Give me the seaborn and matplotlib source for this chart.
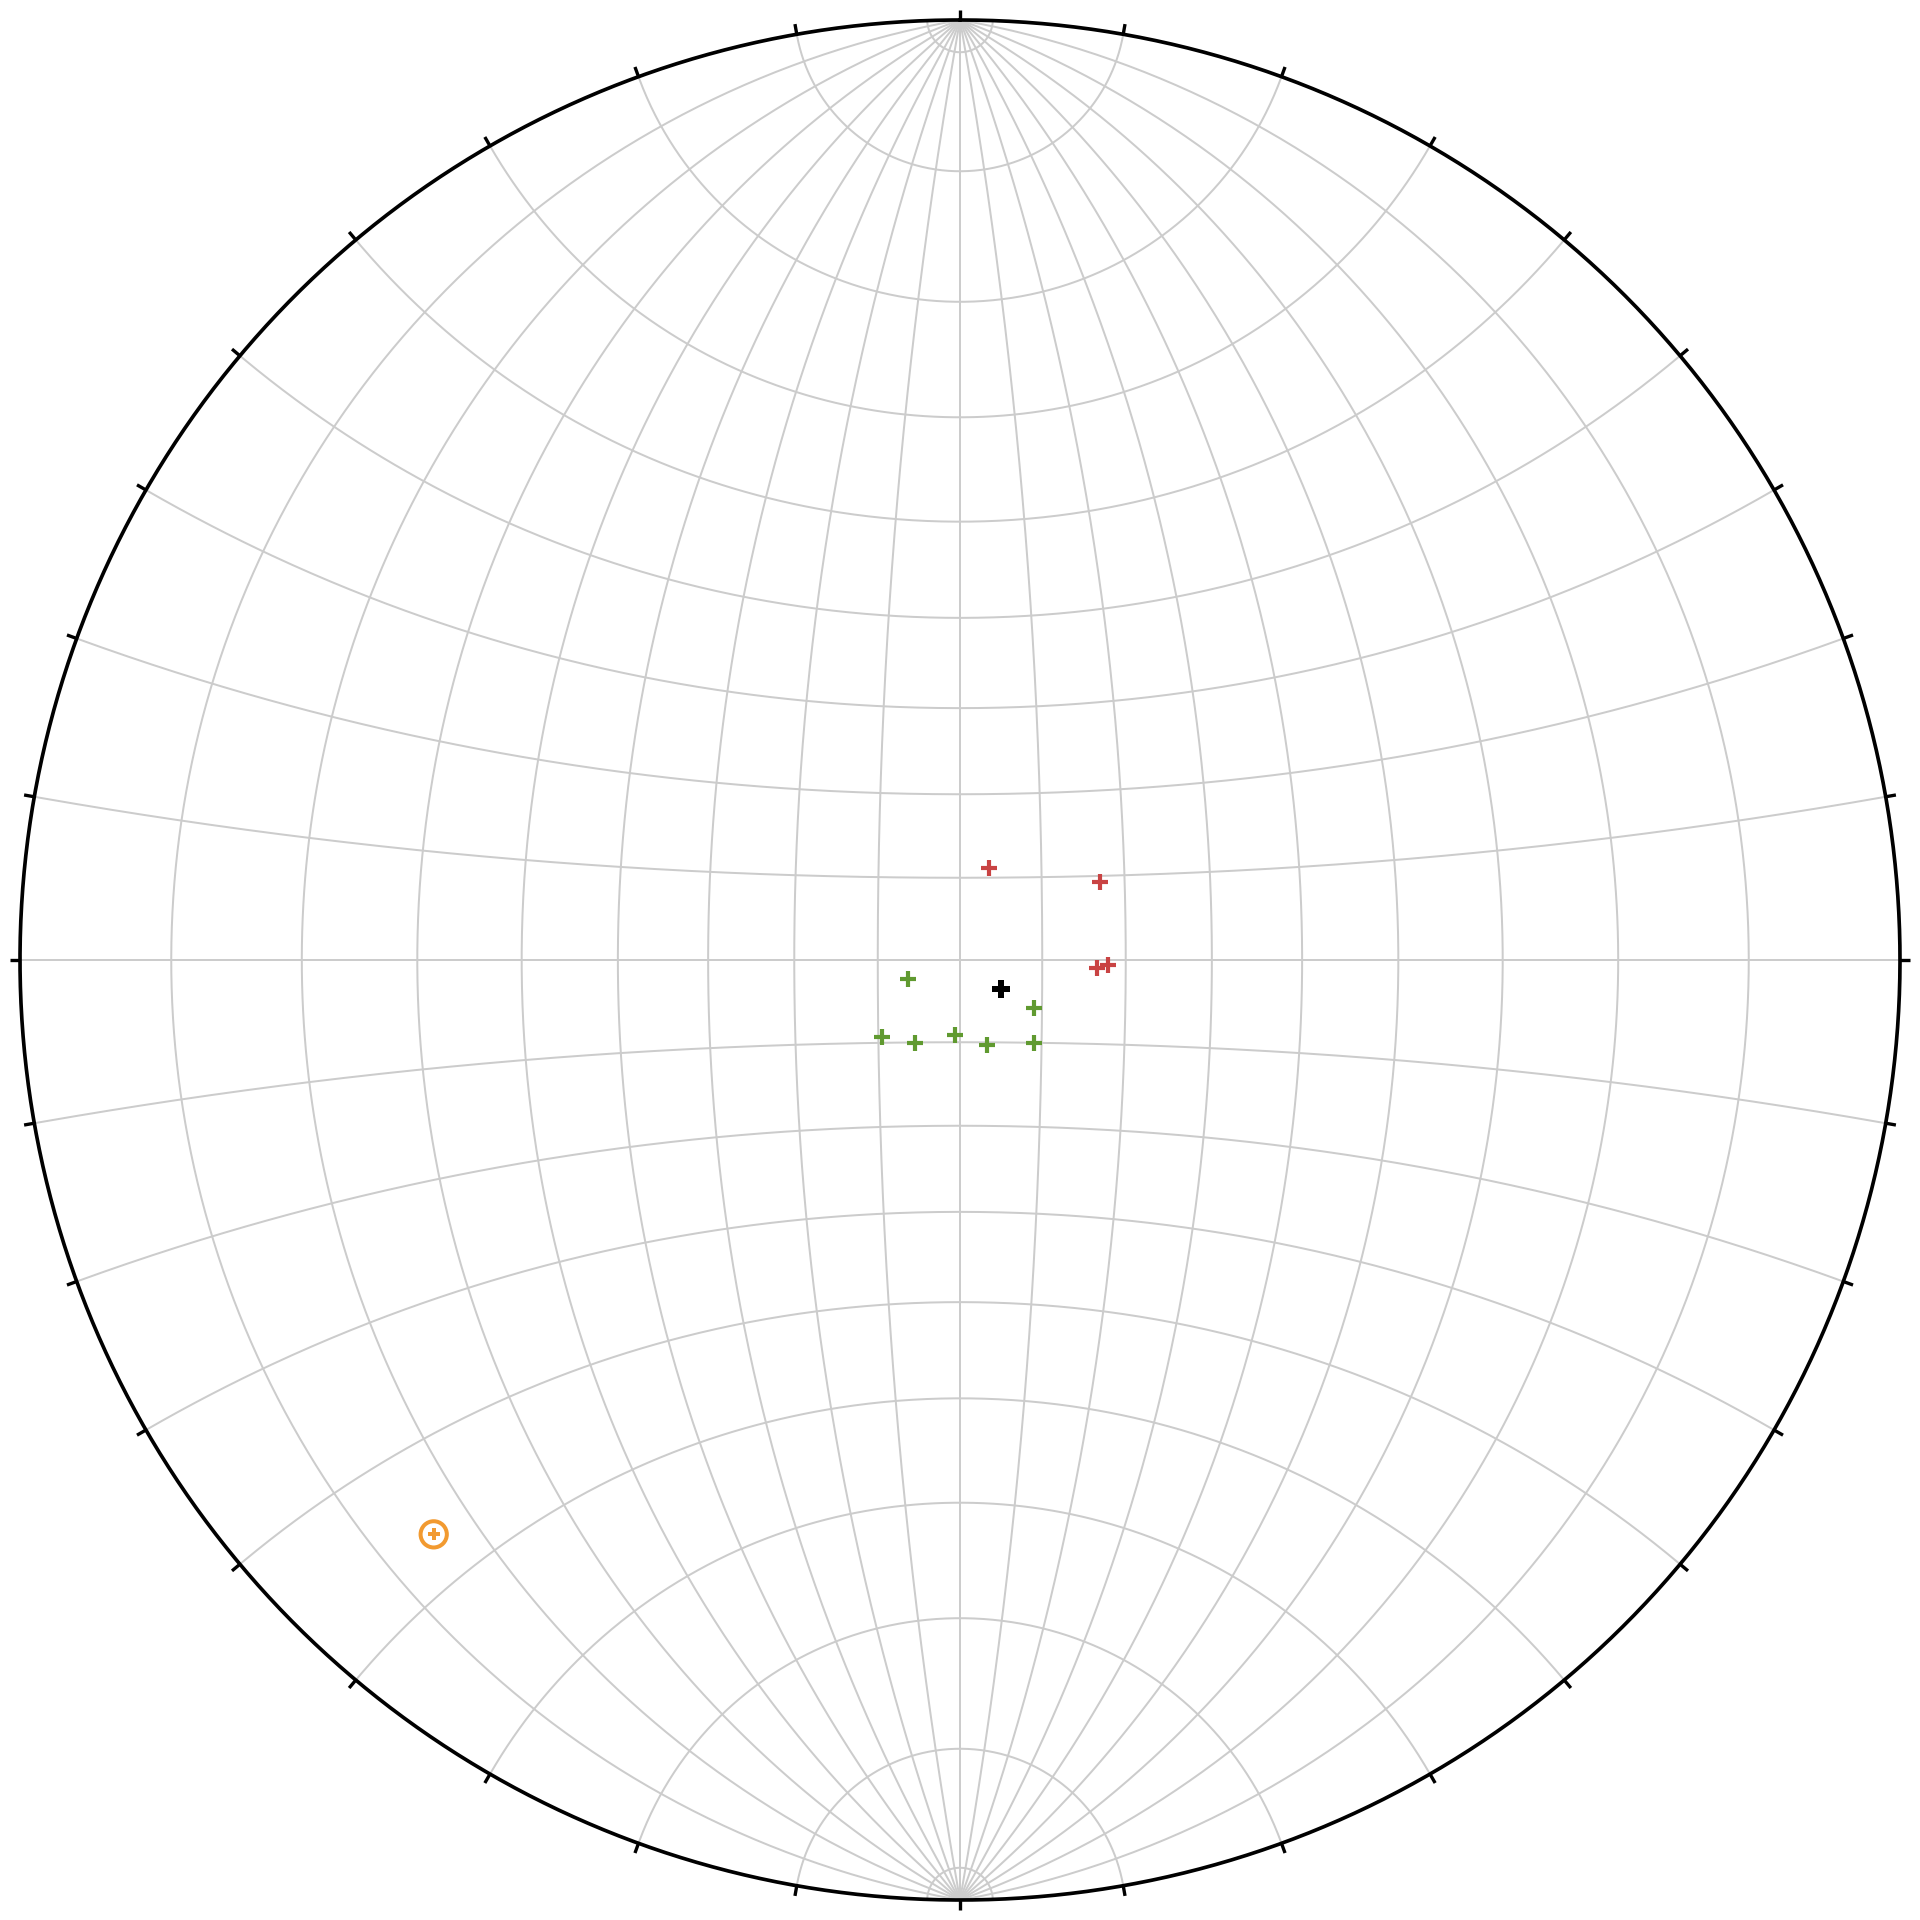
import numpy as np
import pandas as pd
import matplotlib
matplotlib.use("Agg")
import matplotlib.pyplot as plt
import seaborn as sns

# lineations, trend / plunge in degrees
red_trend = [17.7, 60.9, 93.2, 92.0]
red_plunge = [78.3, 70.7, 73.35, 72.1]

green_trend = [249.6, 123.1, 225.4, 208.2, 183.8, 162.4, 138.5]
green_plunge = [83.3, 79.3, 76.7, 78.5, 80.9, 79.2, 76.5]

mean_trend = [125.6]
mean_plunge = [83.9]

orange_trend = [222.5]
orange_plunge = [10.7]

# net spacing
meridian_angles = np.arange(-80, 81, 10)
small_circle_angles = [2, 10, 20, 30, 40, 50, 60, 70, 80]
tick_angles = np.arange(0, 360, 10)


def stereo(x, y, z):
    # lower hemisphere equal angle projection
    return x / (1 + z), y / (1 + z)


def line_xy(trend, plunge):
    t = np.radians(np.asarray(trend))
    p = np.radians(np.asarray(plunge))
    return stereo(np.cos(p) * np.sin(t), np.cos(p) * np.cos(t), np.sin(p))


def frame(trend, plunge, group):
    x, y = line_xy(trend, plunge)
    return pd.DataFrame({'x': x, 'y': y, 'group': group})


sns.set_style("white")
fig = plt.figure(figsize=(8, 8), dpi=240)
ax = fig.add_axes([20 / 1920, 20 / 1920, 1880 / 1920, 1880 / 1920])
ax.set_xlim(-1, 1)
ax.set_ylim(-1, 1)
ax.set_aspect('equal')
ax.axis('off')

grid_kw = dict(color='#cccccc', lw=0.6, zorder=1)

# great circles through N and S
t = np.radians(np.linspace(0, 180, 500))
for phi in np.radians(meridian_angles):
    x = np.sin(t) * np.sin(phi)
    y = np.cos(t)
    z = np.sin(t) * np.cos(phi)
    px, py = stereo(x, y, z)
    ax.plot(px, py, **grid_kw)

# small circles around N and S
s = np.radians(np.linspace(0, 180, 400))
for a in np.radians(small_circle_angles):
    for sign in (1, -1):
        x = np.sin(a) * np.cos(s)
        y = sign * np.cos(a) * np.ones_like(s)
        z = np.sin(a) * np.sin(s)
        px, py = stereo(x, y, z)
        ax.plot(px, py, **grid_kw)

# E-W line
ax.plot([-1, 1], [0, 0], **grid_kw)

# primitive
th = np.linspace(0, 2 * np.pi, 720)
ax.plot(np.sin(th), np.cos(th), color='black', lw=1.1, zorder=3, clip_on=False)

# ticks outward
for ang in np.radians(tick_angles):
    ax.plot([np.sin(ang), 1.011 * np.sin(ang)], [np.cos(ang), 1.011 * np.cos(ang)],
            color='black', lw=1.0, zorder=3, clip_on=False, solid_capstyle='butt')

red = frame(red_trend, red_plunge, 'red')
green = frame(green_trend, green_plunge, 'green')
mean = frame(mean_trend, mean_plunge, 'mean')
orange = frame(orange_trend, orange_plunge, 'orange')

sns.scatterplot(data=red, x='x', y='y', marker='+', color='#c94343', s=22,
                linewidth=1.25, ax=ax, zorder=5, legend=False)
sns.scatterplot(data=green, x='x', y='y', marker='+', color='#609a30', s=22,
                linewidth=1.25, ax=ax, zorder=5, legend=False)
sns.scatterplot(data=mean, x='x', y='y', marker='P', color='black', s=30,
                linewidth=0, ax=ax, zorder=6, legend=False)
sns.scatterplot(data=orange, x='x', y='y', marker='o', facecolor='none',
                edgecolor='#f29a30', s=62, linewidth=1.2, ax=ax, zorder=5, legend=False)
sns.scatterplot(data=orange, x='x', y='y', marker='+', color='#f29a30', s=14,
                linewidth=1.2, ax=ax, zorder=5, legend=False)

ax.set_xlabel('')
ax.set_ylabel('')
fig.savefig('out.png', dpi=240, facecolor='white')
